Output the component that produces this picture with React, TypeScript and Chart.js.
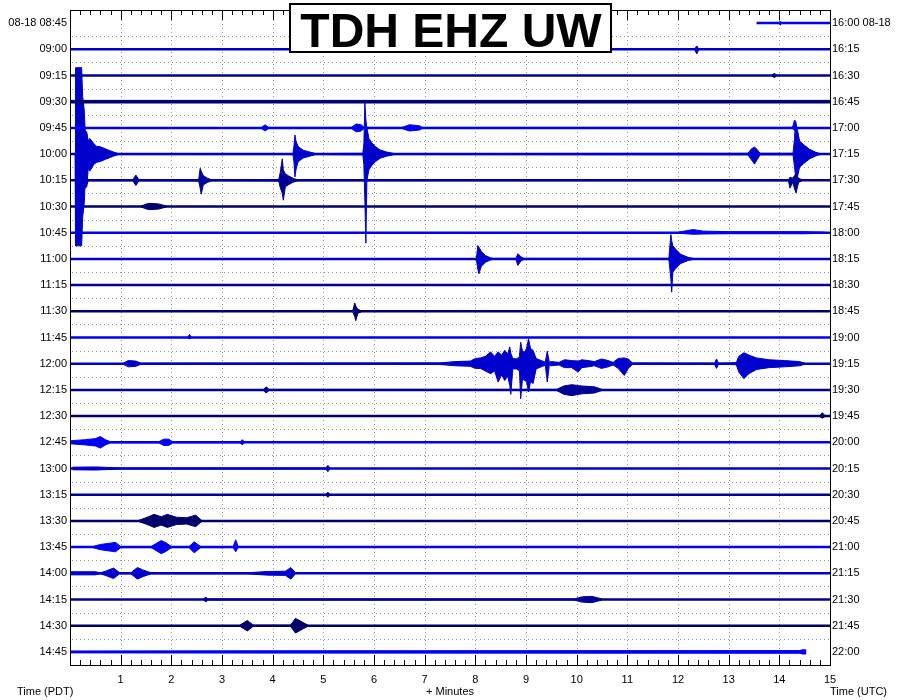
import React, { useEffect, useRef } from 'react';
import { Chart, registerables } from 'chart.js';

Chart.register(...registerables);

type Env = [number, number, number][]; // [minute, amplitude up, amplitude down] in trace-spacing units

const FONT = '"Liberation Sans", Arial, Helvetica, sans-serif';

const PDT_LABELS = ['08-18 08:45', '09:00', '09:15', '09:30', '09:45', '10:00', '10:15', '10:30', '10:45', '11:00', '11:15', '11:30', '11:45', '12:00', '12:15', '12:30', '12:45', '13:00', '13:15', '13:30', '13:45', '14:00', '14:15', '14:30', '14:45'];
const UTC_LABELS = ['16:00 08-18', '16:15', '16:30', '16:45', '17:00', '17:15', '17:30', '17:45', '18:00', '18:15', '18:30', '18:45', '19:00', '19:15', '19:30', '19:45', '20:00', '20:15', '20:30', '20:45', '21:00', '21:15', '21:30', '21:45', '22:00'];
const MINUTE_TICKS = [1, 2, 3, 4, 5, 6, 7, 8, 9, 10, 11, 12, 13, 14, 15];
const MINUTES_PER_ROW = 15;
const FIRST_TRACE_START = 13.55;
const LAST_TRACE_END = 14.53;
const TRACE_COLORS = ['#0000f4', '#0000cc', '#000096', '#00006c'];

const TR_0845: Env = [[14.0, .02, .02], [14.02, .08, .08], [14.04, .02, .02]];
const TR_0900: Env = [[12.33, .02, .02], [12.37, .13, .18], [12.41, .02, .02]];
const TR_0915: Env = [[13.85, .02, .02], [13.9, .08, .08], [13.95, .02, .02]];
const TR_0930: Env = [[0, .05, .05], [15, .05, .05]];
const TR_0945: Env = [[3.78, .02, .02], [3.85, .12, .12], [3.92, .02, .02], [5.55, .02, .02], [5.65, .15, .15], [5.75, .12, .12], [5.8, .02, .02], [6.55, .02, .02], [6.7, .12, .12], [6.9, .08, .08], [6.95, .02, .02], [14.26, .02, .02], [14.3, .3, .1], [14.34, .02, .02]];
const TR_1000: Env = [[0.1, 0, 0], [0.11, 3.3, 3.5], [0.23, 3.3, 3.5], [0.25, 2.2, 2.4], [0.28, 1.7, 1.9], [0.3, .9, 1.1], [0.33, .85, 1.25], [0.36, .5, .55], [0.39, .6, .65], [0.47, .4, .4], [0.52, .3, .32], [0.6, .28, .28], [0.75, .16, .16], [0.86, .08, .08], [0.95, .02, .02],
  [4.4, .02, .02], [4.42, .3, .3], [4.44, .73, .87], [4.46, .5, .6], [4.5, .3, .3], [4.6, .15, .15], [4.75, .07, .07], [4.85, .02, .02],
  [5.78, .03, .03], [5.8, .4, .4], [5.82, 1.95, 1.8], [5.84, 1.3, 3.4], [5.86, 1.0, 1.0], [5.9, .6, .6], [5.95, .45, .45], [6.02, .3, .3], [6.12, .16, .16], [6.25, .08, .08], [6.4, .02, .02],
  [13.38, .03, .03], [13.45, .2, .22], [13.51, .27, .38], [13.56, .18, .22], [13.62, .03, .03],
  [14.27, .03, .03], [14.3, .6, .5], [14.32, 1.27, .83], [14.36, .9, .85], [14.4, .5, .5], [14.5, .33, .33], [14.6, .18, .18], [14.72, .07, .07], [14.8, .02, .02]];
const TR_1015: Env = [[0.28, .02, .02], [0.31, .1, .3], [0.36, .02, .02], [1.24, .02, .02], [1.3, .2, .2], [1.36, .02, .02],
  [2.54, .03, .03], [2.57, .46, .3], [2.59, .35, .53], [2.63, .18, .18], [2.72, .07, .07], [2.8, .02, .02],
  [4.12, .03, .03], [4.15, .3, .28], [4.19, .82, .5], [4.21, .4, .76], [4.25, .25, .25], [4.32, .16, .16], [4.42, .06, .06], [4.5, .02, .02],
  [14.18, .02, .02], [14.21, .12, .3], [14.26, .08, .08], [14.33, .25, .48], [14.38, .08, .08], [14.45, .02, .02]];
const TR_1030: Env = [[1.4, .02, .02], [1.55, .12, .12], [1.75, .1, .1], [1.9, .02, .02]];
const TR_1045: Env = [[12.0, .02, .02], [12.3, .12, .06], [12.5, .06, .05], [13.0, .04, .04], [14.5, .04, .04], [14.9, .02, .02]];
const TR_1100: Env = [[8.02, .02, .02], [8.05, .51, .4], [8.07, .45, .57], [8.12, .28, .28], [8.2, .13, .13], [8.3, .04, .04], [8.35, .02, .02],
  [8.8, .02, .02], [8.84, .2, .25], [8.9, .08, .08], [8.96, .02, .02],
  [11.82, .02, .02], [11.84, .5, .4], [11.86, .93, .8], [11.875, .7, 1.27], [11.9, .5, .5], [11.95, .38, .38], [12.05, .18, .18], [12.2, .06, .06], [12.3, .02, .02]];
const TR_1115: Env = [];
const TR_1130: Env = [[5.58, .02, .02], [5.62, .32, .2], [5.64, .2, .36], [5.68, .08, .08], [5.75, .02, .02]];
const TR_1145: Env = [[2.33, .02, .02], [2.36, .12, .05], [2.39, .02, .02]];
const TR_1200: Env = [[1.05, .02, .02], [1.15, .12, .12], [1.3, .1, .1], [1.4, .02, .02],
  [7.3, .03, .03], [7.6, .08, .08], [7.9, .1, .1], [8.0, .2, .18], [8.1, .22, .18], [8.2, .28, .28], [8.3, .45, .38], [8.38, .28, .28], [8.45, .45, .7], [8.52, .33, .43], [8.58, .51, .64], [8.64, .38, .48], [8.68, .64, .83], [8.7, .4, 1.17], [8.74, .2, .2], [8.82, .18, .2], [8.87, .28, .28], [8.895, .82, 1.34], [8.93, .48, .58], [8.97, .44, .64], [9.01, .58, .68], [9.05, .95, 1.08], [9.09, .58, .68], [9.14, .51, .76], [9.2, .2, .2], [9.3, .12, .12], [9.38, .06, .06], [9.42, .48, .7], [9.46, .06, .06], [9.5, .08, .08], [9.65, .05, .05], [9.76, .15, .15], [9.9, .12, .15], [10.03, .1, .32], [10.1, .15, .15], [10.23, .12, .12], [10.35, .08, .08], [10.49, .18, .18], [10.62, .12, .12], [10.72, .05, .05], [10.82, .2, .18], [10.94, .22, .45], [11.02, .18, .18], [11.1, .03, .03],
  [12.72, .02, .02], [12.76, .18, .18], [12.8, .02, .02],
  [13.15, .04, .04], [13.2, .28, .32], [13.3, .42, .57], [13.4, .33, .38], [13.55, .22, .22], [13.8, .15, .15], [14.1, .12, .12], [14.4, .08, .08], [14.5, .02, .02]];
const TR_1215: Env = [[3.82, .02, .02], [3.87, .12, .12], [3.93, .02, .02], [9.6, .02, .02], [9.75, .15, .17], [9.9, .2, .22], [10.1, .15, .15], [10.35, .12, .12], [10.5, .02, .02]];
const TR_1230: Env = [[14.8, .02, .02], [14.85, .13, .08], [14.9, .02, .02]];
const TR_1245: Env = [[0.02, .06, .06], [0.3, .1, .1], [0.5, .14, .14], [0.6, .22, .22], [0.7, .1, .1], [0.8, .02, .02], [1.75, .02, .02], [1.85, .12, .12], [1.95, .12, .12], [2.02, .02, .02], [3.36, .02, .02], [3.4, .1, .1], [3.44, .02, .02]];
const TR_1300: Env = [[0.05, .05, .05], [0.5, .06, .06], [1.0, .02, .02], [5.05, .02, .02], [5.09, .12, .12], [5.13, .02, .02]];
const TR_1315: Env = [[5.05, .02, .02], [5.09, .1, .1], [5.13, .02, .02]];
const TR_1330: Env = [[1.35, .02, .02], [1.5, .12, .12], [1.66, .25, .25], [1.8, .16, .16], [1.92, .25, .25], [2.1, .14, .14], [2.3, .12, .12], [2.48, .22, .22], [2.6, .02, .02]];
const TR_1345: Env = [[0.45, .02, .02], [0.6, .1, .1], [0.9, .18, .18], [1.0, .02, .02], [1.6, .02, .02], [1.8, .25, .25], [1.9, .16, .16], [2.0, .02, .02], [2.35, .02, .02], [2.45, .2, .22], [2.58, .02, .02], [3.22, .02, .02], [3.27, .28, .18], [3.32, .02, .02]];
const TR_1400: Env = [[0.02, .06, .06], [0.5, .06, .06], [0.6, .02, .02], [0.7, .08, .08], [0.86, .2, .2], [0.98, .02, .02], [1.2, .02, .02], [1.33, .22, .22], [1.45, .12, .12], [1.6, .02, .02], [3.5, .02, .02], [3.9, .07, .07], [4.25, .08, .08], [4.36, .22, .22], [4.45, .02, .02]];
const TR_1415: Env = [[2.64, .02, .02], [2.68, .1, .1], [2.72, .02, .02], [9.95, .02, .02], [10.1, .1, .1], [10.3, .12, .12], [10.5, .02, .02]];
const TR_1430: Env = [[3.35, .02, .02], [3.5, .2, .2], [3.62, .02, .02], [4.35, .02, .02], [4.45, .28, .28], [4.6, .12, .12], [4.7, .02, .02]];
const TR_1445: Env = [[0, .03, .03], [4.0, .04, .04], [14.4, .05, .05], [14.45, .08, .08], [14.53, .08, .08]];

const TRACES: Env[] = [TR_0845, TR_0900, TR_0915, TR_0930, TR_0945, TR_1000, TR_1015, TR_1030, TR_1045, TR_1100, TR_1115, TR_1130, TR_1145, TR_1200, TR_1215, TR_1230, TR_1245, TR_1300, TR_1315, TR_1330, TR_1345, TR_1400, TR_1415, TR_1430, TR_1445];

const TITLE = 'TDH EHZ UW';

const decorPlugin = {
  id: 'helicorderDecor',
  beforeDatasetsDraw(chart: any) {
    const { ctx, chartArea: a, scales } = chart;
    const x = scales.x, y = scales.y;
    ctx.save();
    ctx.strokeStyle = '#969696';
    ctx.lineWidth = 1;
    ctx.setLineDash([1, 3]);
    for (let i = 0; i < TRACES.length - 1; i++) {
      const py = Math.round(y.getPixelForValue(i + 0.5)) + 0.5;
      ctx.beginPath(); ctx.moveTo(a.left + 2, py); ctx.lineTo(a.right, py); ctx.stroke();
    }
    MINUTE_TICKS.forEach((m) => {
      if (m >= MINUTES_PER_ROW) return;
      const px = Math.round(x.getPixelForValue(m)) + 0.5;
      ctx.beginPath(); ctx.moveTo(px, a.top + 10); ctx.lineTo(px, a.bottom - 10); ctx.stroke();
    });
    ctx.restore();
  },
  afterDatasetsDraw(chart: any) {
    const { ctx, chartArea: a, scales } = chart;
    const x = scales.x;
    ctx.save();
    ctx.strokeStyle = '#000';
    ctx.lineWidth = 1;
    ctx.strokeRect(Math.round(a.left) + 0.5, Math.round(a.top) + 0.5, Math.round(a.right - a.left), Math.round(a.bottom - a.top));
    for (let k = 1; k < MINUTES_PER_ROW * 5; k++) {
      const px = Math.round(x.getPixelForValue(k / 5)) + 0.5;
      const len = k % 5 === 0 ? 10 : 5;
      ctx.beginPath();
      ctx.moveTo(px, a.top); ctx.lineTo(px, a.top + len);
      ctx.moveTo(px, a.bottom); ctx.lineTo(px, a.bottom - len);
      ctx.stroke();
    }
    ctx.restore();
  },
  afterDraw(chart: any) {
    const { ctx, chartArea: a } = chart;
    ctx.save();
    ctx.fillStyle = '#fff';
    ctx.fillRect(289, 3, 323, 50);
    ctx.strokeStyle = '#000';
    ctx.lineWidth = 2;
    ctx.strokeRect(290, 4, 321, 48);
    ctx.fillStyle = '#000';
    ctx.font = `bold 48px ${FONT}`;
    ctx.textAlign = 'center';
    ctx.textBaseline = 'alphabetic';
    ctx.fillText(TITLE, 451, 47);
    ctx.font = `11px ${FONT}`;
    ctx.textBaseline = 'middle';
    ctx.textAlign = 'left';
    ctx.fillText('Time (PDT)', 17, 692);
    ctx.textAlign = 'center';
    ctx.fillText('+ Minutes', (a.left + a.right) / 2, 692);
    ctx.textAlign = 'left';
    ctx.fillText('Time (UTC)', 830, 692);
    ctx.restore();
  },
};

function buildDatasets() {
  const ds: any[] = [];
  TRACES.forEach((env, i) => {
    const start = i === 0 ? FIRST_TRACE_START : 0;
    const end = i === TRACES.length - 1 ? LAST_TRACE_END : MINUTES_PER_ROW;
    const color = TRACE_COLORS[i % TRACE_COLORS.length];
    ds.push({
      data: [{ x: start, y: i }, { x: end, y: i }],
      borderColor: color, borderWidth: 2.5, pointRadius: 0, fill: false, tension: 0,
    });
    const samples = env.filter((s) => s[0] >= start && s[0] <= end);
    if (!samples.length) return;
    ds.push({
      data: samples.map((s) => ({ x: s[0], y: i - s[1] })),
      borderColor: color, borderWidth: 1, pointRadius: 0, fill: false, tension: 0,
    });
    ds.push({
      data: samples.map((s) => ({ x: s[0], y: i + s[2] })),
      borderColor: color, backgroundColor: color, borderWidth: 1, pointRadius: 0, fill: '-1', tension: 0,
    });
  });
  return ds;
}

export default function App() {
  const ref = useRef<HTMLCanvasElement | null>(null);
  useEffect(() => {
    document.body.style.margin = '0';
    const canvas = ref.current;
    if (!canvas) return;
    const rowScale = (labels: string[], position: 'left' | 'right', padding: number) => ({
      type: 'linear', position, min: -0.5, max: TRACES.length - 0.5, reverse: true,
      grid: { display: false, drawTicks: false }, border: { display: false },
      afterBuildTicks: (s: any) => { s.ticks = labels.map((_, i) => ({ value: i })); },
      ticks: { callback: (_v: any, idx: number) => labels[idx], font: { family: FONT, size: 11 }, color: '#000', padding, autoSkip: false },
      afterFit: (s: any) => { s.width = 70; },
    });
    const chart = new Chart(canvas, {
      type: 'line',
      data: { datasets: buildDatasets() },
      options: {
        animation: false,
        responsive: false,
        events: [],
        layout: { padding: { top: 10, left: 0, right: 0, bottom: 0 } },
        plugins: { legend: { display: false }, tooltip: { enabled: false }, title: { display: false } },
        scales: {
          x: {
            type: 'linear', position: 'bottom', min: 0, max: MINUTES_PER_ROW,
            grid: { display: false, drawTicks: false }, border: { display: false },
            afterBuildTicks: (s: any) => { s.ticks = MINUTE_TICKS.map((v) => ({ value: v })); },
            ticks: { font: { family: FONT, size: 11 }, color: '#000', padding: 8, maxRotation: 0, autoSkip: false },
            afterFit: (s: any) => { s.height = 35; },
          },
          y: rowScale(PDT_LABELS, 'left', 3) as any,
          y2: rowScale(UTC_LABELS, 'right', 2) as any,
        },
      } as any,
      plugins: [decorPlugin],
    });
    return () => chart.destroy();
  }, []);
  return <canvas ref={ref} width={900} height={700} style={{ display: 'block' }} />;
}
